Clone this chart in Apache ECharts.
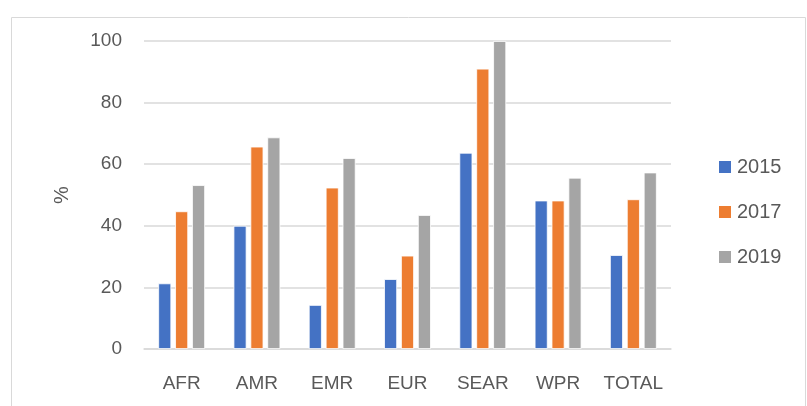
<!DOCTYPE html>
<html>
<head>
<meta charset="utf-8">
<script src="https://cdn.jsdelivr.net/npm/echarts@6/dist/echarts.min.js"></script>
<style>
  html, body { margin: 0; padding: 0; background: #fff; }
  #chart { width: 807px; height: 406px; }
</style>
</head>
<body>
<div id="chart"></div>
<script>
// regions and coverage (%) per year
const categories = ['AFR', 'AMR', 'EMR', 'EUR', 'SEAR', 'WPR', 'TOTAL']
const values2015 = [21.3, 40.0, 14.3, 22.7, 63.7, 48.2, 30.5]
const values2017 = [44.7, 65.7, 52.4, 30.3, 91.0, 48.2, 48.6]
const values2019 = [53.2, 68.7, 62.0, 43.5, 100, 55.6, 57.3]
const yTicks = [0, 20, 40, 60, 80, 100]

const font = 'Liberation Sans'
const textColor = '#595959'

const chart = echarts.init(document.getElementById('chart'))

const bar = (name, data, color) => ({
	name,
	type: 'bar',
	data,
	barWidth: 13,
	barGap: '30%',
	itemStyle: { color, borderColor: '#fff', borderWidth: 0.8 },
})

chart.setOption({
	animation: false,
	textStyle: { fontFamily: font },
	graphic: [
		{
			type: 'rect',
			shape: { x: 11.5, y: 17.5, width: 794, height: 400 },
			style: { fill: 'none', stroke: '#d9d9d9', lineWidth: 1 },
			silent: true,
		},
	],
	grid: { left: 144, right: 136, top: 41, bottom: 57 },
	legend: {
		orient: 'vertical',
		left: 712,
		top: 152,
		itemWidth: 14,
		itemHeight: 14,
		itemGap: 25,
		icon: 'rect',
		textStyle: { fontSize: 20, color: textColor, fontFamily: font, padding: [0, 0, 0, 0] },
		data: ['2015', '2017', '2019'],
	},
	xAxis: {
		type: 'category',
		data: categories,
		axisTick: { show: false },
		axisLine: { lineStyle: { color: '#d9d9d9', width: 1.5 } },
		axisLabel: { interval: 0, fontSize: 19, color: textColor, margin: 25, fontFamily: font },
	},
	yAxis: {
		type: 'value',
		min: yTicks[0],
		max: yTicks[yTicks.length - 1],
		interval: 20,
		name: '%',
		nameLocation: 'middle',
		nameGap: 72,
		nameRotate: 90,
		nameTextStyle: { fontSize: 20, color: textColor, fontFamily: font },
		axisLine: { show: false },
		axisTick: { show: false },
		axisLabel: { fontSize: 19, color: textColor, margin: 22, fontFamily: font },
		splitLine: { lineStyle: { color: '#d9d9d9', width: 1.5 } },
	},
	series: [
		bar('2015', values2015, '#4472c4'),
		bar('2017', values2017, '#ed7d31'),
		bar('2019', values2019, '#a5a5a5'),
	],
})
</script>
</body>
</html>
